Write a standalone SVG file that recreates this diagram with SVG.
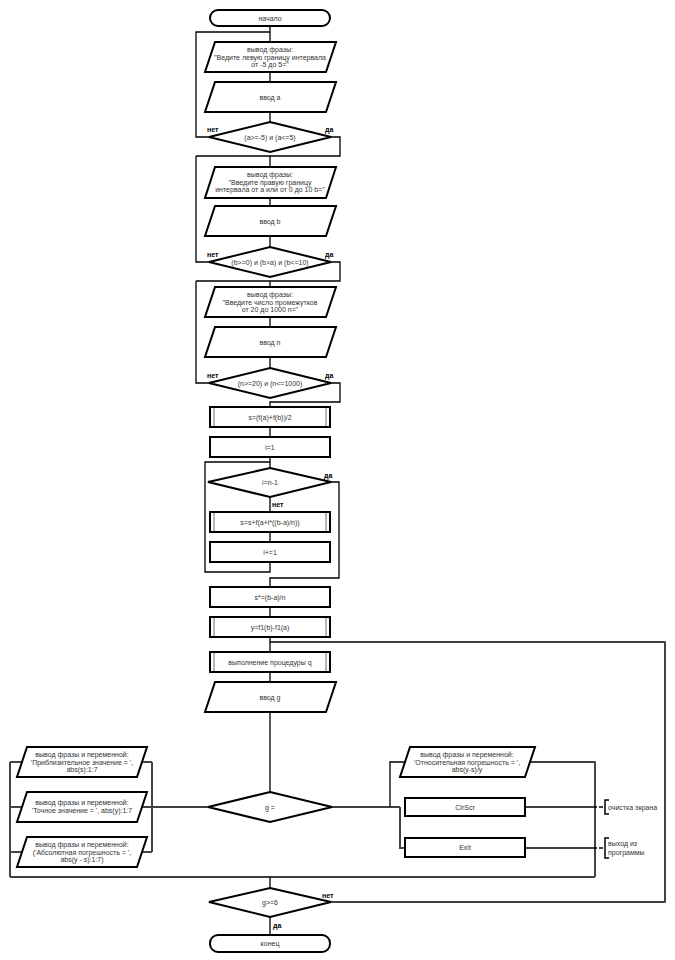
<svg xmlns="http://www.w3.org/2000/svg" width="675" height="960" viewBox="0 0 675 960">
<style>
.s{fill:#fff;stroke:#000;stroke-width:2}
.in{stroke:#888;stroke-width:1.2}
.c{fill:none;stroke:#000;stroke-width:1.3}
.g{fill:none;stroke:#444;stroke-width:2}
.t{font-family:"Liberation Sans",Arial,sans-serif;font-size:7px;fill:#333;text-anchor:middle}
.l{font-family:"Liberation Sans",Arial,sans-serif;font-size:7px;fill:#000;font-weight:bold}
.n{font-family:"Liberation Sans",Arial,sans-serif;font-size:7px;fill:#333}
</style>
<rect width="675" height="960" fill="#fff"/>
<g id="connectors">
<path class="c" d="M270 26V42M270 72V82M270 112V122M209 137H196V32H270M331 137H340V156H196M270 156V167"/>
<path class="c" d="M270 198V206M270 236V247M209 262H196V156M331 262H340V281H196M270 281V287"/>
<path class="c" d="M270 317V327M270 357V368M209 383H196V281M331 383H340V402H270V407"/>
<path class="c" d="M270 427V437M270 457V468M270 462H205V572H270V562M270 497V512M270 532V542M331 482H339V578H270V587M270 607V617M270 637V652M270 642H665V902H331M270 672V682M270 712V792"/>
<path class="c" d="M208 807H142M332 807H400M390 807V762H405M530 762H595V877M10 877H595M270 877V888M270 917V935"/>
<path class="g" d="M10 762V877M10 762H22M10 807H22M10 852H22M152 762V852M142 762H152M142 852H152M400 807V848H405M665 642V902M595 762V877"/>
<path class="c" d="M525 807H597M599 807H603M525 848H597M599 848H603"/>
<path fill="none" stroke="#000" stroke-width="1.5" d="M609 800H605V814H609M609 838H605V858H609"/>
</g>
<g id="start"><rect class="s" x="210" y="10" width="120" height="16" rx="8"/><text class="t" x="270" y="20.5">начало</text></g>
<g id="p1"><polygon class="s" points="215,42 336,42 326,72 205,72"/><text class="t" x="270" y="52">вывод фразы:</text><text class="t" x="270" y="59.5">"Ведите левую границу интервала</text><text class="t" x="270" y="67">от -5 до 5="</text></g>
<g id="p2"><polygon class="s" points="215,82 336,82 326,112 205,112"/><text class="t" x="270" y="99.5">ввод a</text></g>
<g id="d1"><polygon class="s" points="270,122 331,137 270,152 209,137"/><text class="t" x="270" y="139.5">(a&gt;=-5) и (a&lt;=5)</text><text class="l" x="207" y="132">нет</text><text class="l" x="325" y="132">да</text></g>
<g id="p3"><polygon class="s" points="215,167 336,167 326,198 205,198"/><text class="t" x="270" y="177">вывод фразы:</text><text class="t" x="270" y="184.5">"Введите правую границу</text><text class="t" x="270" y="192">интервала от a или от 0 до 10 b="</text></g>
<g id="p4"><polygon class="s" points="215,206 336,206 326,236 205,236"/><text class="t" x="270" y="223.5">ввод b</text></g>
<g id="d2"><polygon class="s" points="270,247 331,262 270,277 209,262"/><text class="t" x="270" y="264.5">(b&gt;=0) и (b&gt;a) и (b&lt;=10)</text><text class="l" x="207" y="257">нет</text><text class="l" x="325" y="257">да</text></g>
<g id="p5"><polygon class="s" points="215,287 336,287 326,317 205,317"/><text class="t" x="270" y="297">вывод фразы:</text><text class="t" x="270" y="304.5">"Введите число промежутков</text><text class="t" x="270" y="312">от 20 до 1000 n="</text></g>
<g id="p6"><polygon class="s" points="215,327 336,327 326,357 205,357"/><text class="t" x="270" y="344.5">ввод n</text></g>
<g id="d3"><polygon class="s" points="270,368 331,383 270,398 209,383"/><text class="t" x="270" y="385.5">(n&gt;=20) и (n&lt;=1000)</text><text class="l" x="207" y="378">нет</text><text class="l" x="325" y="378">да</text></g>
<g id="r1"><rect class="s" x="210" y="407" width="120" height="20"/><path class="in" d="M214 408V426M326 408V426"/><text class="t" x="270" y="419.5">s=(f(a)+f(b))/2</text></g>
<g id="r2"><rect class="s" x="210" y="437" width="120" height="20"/><text class="t" x="270" y="449.5">i=1</text></g>
<g id="d4"><polygon class="s" points="270,468 331,482 270,497 208,482"/><text class="t" x="270" y="484.5">i=n-1</text><text class="l" x="324" y="478">да</text><text class="l" x="272" y="507">нет</text></g>
<g id="r3"><rect class="s" x="210" y="512" width="120" height="20"/><path class="in" d="M214 513V531M326 513V531"/><text class="t" x="270" y="524.5">s=s+f(a+i*((b-a)/n))</text></g>
<g id="r4"><rect class="s" x="210" y="542" width="120" height="20"/><text class="t" x="270" y="554.5">i+=1</text></g>
<g id="r5"><rect class="s" x="210" y="587" width="120" height="20"/><text class="t" x="270" y="599.5">s*=(b-a)/n</text></g>
<g id="r6"><rect class="s" x="210" y="617" width="120" height="20"/><path class="in" d="M214 618V636M326 618V636"/><text class="t" x="270" y="629.5">y=f1(b)-f1(a)</text></g>
<g id="r7"><rect class="s" x="210" y="652" width="120" height="20"/><path class="in" d="M214 653V671M326 653V671"/><text class="t" x="270" y="664.5">выполнение процедуры q</text></g>
<g id="p7"><polygon class="s" points="215,682 336,682 326,712 205,712"/><text class="t" x="270" y="699.5">ввод g</text></g>
<g id="d5"><polygon class="s" points="270,792 332,807 270,822 208,807"/><text class="t" x="270" y="809.5">g =</text></g>
<g id="L1"><polygon class="s" points="27,747 147,747 137,777 17,777"/><text class="t" x="82" y="757">вывод фразы и переменной:</text><text class="t" x="82" y="764.5">'Приблизительное значение = ',</text><text class="t" x="82" y="772">abs(s):1:7</text></g>
<g id="L2"><polygon class="s" points="27,792 147,792 137,822 17,822"/><text class="t" x="82" y="805">вывод фразы и переменной:</text><text class="t" x="82" y="812.5">'Точное значение = ', abs(y):1:7</text></g>
<g id="L3"><polygon class="s" points="27,837 147,837 137,867 17,867"/><text class="t" x="82" y="847">вывод фразы и переменной:</text><text class="t" x="82" y="854.5">('Абсолютная погрешность = ',</text><text class="t" x="82" y="862">abs(y - s):1:7)</text></g>
<g id="R1"><polygon class="s" points="410,747 535,747 525,777 400,777"/><text class="t" x="467" y="757">вывод фразы и переменной:</text><text class="t" x="467" y="764.5">'Относительная погрешность = ',</text><text class="t" x="467" y="772">abs(y-s)/y</text></g>
<g id="clrscr"><rect class="s" x="405" y="798" width="120" height="18"/><text class="t" x="465" y="809.5">ClrScr</text></g>
<g id="exit"><rect class="s" x="405" y="838" width="120" height="19"/><text class="t" x="465" y="850">Exit</text></g>
<g id="note1"><text class="n" x="608" y="810">очистка экрана</text></g>
<g id="note2"><text class="n" x="608" y="846">выход из</text><text class="n" x="608" y="855">программы</text></g>
<g id="d6"><polygon class="s" points="270,888 331,902 270,917 209,902"/><text class="t" x="270" y="904.5">g&gt;=6</text><text class="l" x="322" y="898">нет</text><text class="l" x="273" y="928">да</text></g>
<g id="end"><rect class="s" x="210" y="935" width="120" height="17" rx="8"/><text class="t" x="270" y="946">конец</text></g>
</svg>
